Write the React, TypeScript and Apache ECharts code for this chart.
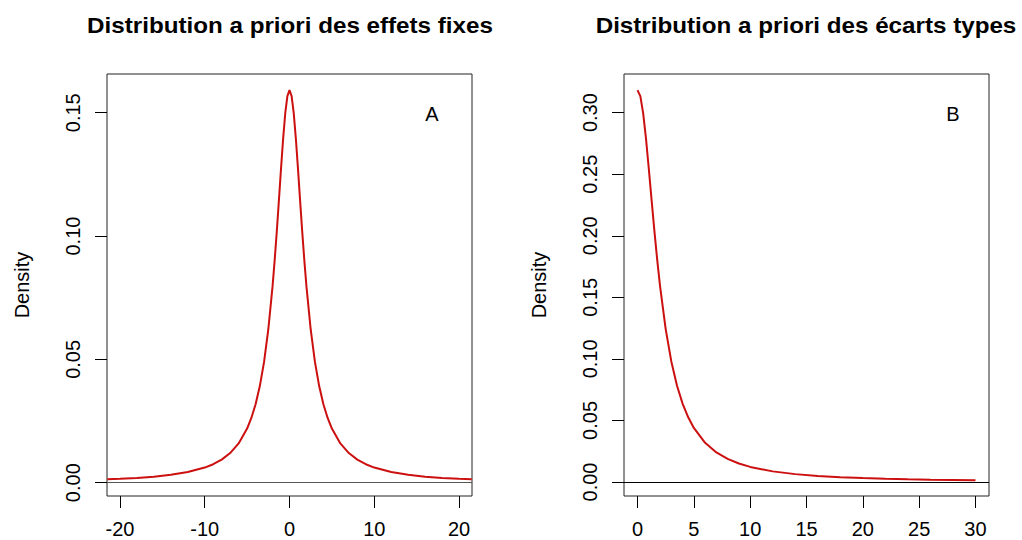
import React, { useEffect, useRef } from "react";
import * as echarts from "echarts";

const titleFixed = "Distribution a priori des effets fixes";
const titleSd = "Distribution a priori des écarts types";
const yName = "Density";
const panelTags = ["A", "B"];

// Panel A: prior density of the fixed effects
const fixedX = [
  -21.5, -20, -18, -16, -14, -12, -10, -9, -8, -7, -6, -5, -4.5, -4, -3.5, -3, -2.5, -2,
  -1.75, -1.5, -1.25, -1, -0.75, -0.5, -0.25, 0, 0.25, 0.5, 0.75, 1, 1.25, 1.5, 1.75, 2,
  2.5, 3, 3.5, 4, 4.5, 5, 6, 7, 8, 9, 10, 12, 14, 16, 18, 20, 21.5,
];
const fixedDensity = [
  0.00137, 0.00158, 0.00194, 0.00245, 0.00318, 0.0043, 0.00612, 0.00749, 0.00936, 0.01201,
  0.01592, 0.02195, 0.02625, 0.03183, 0.03918, 0.04897, 0.06211, 0.07958, 0.09014, 0.10186,
  0.11445, 0.12732, 0.13953, 0.14979, 0.15671, 0.15916, 0.15671, 0.14979, 0.13953, 0.12732,
  0.11445, 0.10186, 0.09014, 0.07958, 0.06211, 0.04897, 0.03918, 0.03183, 0.02625, 0.02195,
  0.01592, 0.01201, 0.00936, 0.00749, 0.00612, 0.0043, 0.00318, 0.00245, 0.00194, 0.00158,
  0.00137,
];

// Panel B: prior density of the standard deviations
const sdX = [
  0, 0.25, 0.5, 0.75, 1, 1.25, 1.5, 1.75, 2, 2.5, 3, 3.5, 4, 4.5, 5, 6, 7, 8, 9, 10, 12, 14,
  16, 18, 20, 22, 24, 26, 28, 30,
];
const sdDensity = [
  0.31831, 0.31341, 0.29959, 0.27907, 0.25465, 0.2289, 0.20372, 0.18028, 0.15916, 0.12422,
  0.09794, 0.07835, 0.06366, 0.05251, 0.04391, 0.03183, 0.02402, 0.01872, 0.01498, 0.01224,
  0.0086, 0.00637, 0.0049, 0.00388, 0.00315, 0.00261, 0.0022, 0.00187, 0.00162, 0.00141,
];

const fixedXTicks = [-20, -10, 0, 10, 20];
const fixedYTicks = [0, 0.05, 0.1, 0.15];
const sdXTicks = [0, 5, 10, 15, 20, 25, 30];
const sdYTicks = [0, 0.05, 0.1, 0.15, 0.2, 0.25, 0.3];

const font = "'Liberation Sans', Arial, Helvetica, sans-serif";
const curveColor = "#cc1010";

function xAxisDef(gridIndex: number, min: number, max: number, ticks: number[]) {
  return {
    gridIndex,
    type: "value",
    position: "bottom",
    min,
    max,
    axisLine: { show: false, onZero: false },
    splitLine: { show: false },
    axisTick: {
      show: true,
      inside: false,
      length: 12,
      customValues: ticks,
      lineStyle: { color: "#000", width: 1 },
    },
    axisLabel: {
      customValues: ticks,
      fontSize: 20,
      lineHeight: 20,
      fontFamily: font,
      color: "#000",
      margin: 23,
      formatter: (v: number) => String(v),
    },
  };
}

function yAxisDef(gridIndex: number, min: number, max: number, ticks: number[]) {
  return {
    gridIndex,
    type: "value",
    position: "left",
    min,
    max,
    axisLine: { show: false, onZero: false },
    splitLine: { show: false },
    axisTick: {
      show: true,
      inside: false,
      length: 12,
      customValues: ticks,
      lineStyle: { color: "#000", width: 1 },
    },
    axisLabel: {
      customValues: ticks,
      rotate: 90,
      fontSize: 20,
      fontFamily: font,
      color: "#000",
      margin: 24,
      formatter: (v: number) => v.toFixed(2),
    },
  };
}

export default function App() {
  const ref = useRef<HTMLDivElement>(null);

  useEffect(() => {
    if (!ref.current) return;
    const chart = echarts.init(ref.current, null, { renderer: "svg" });
    const gridBase = {
      show: true,
      borderColor: "#222",
      borderWidth: 1,
      backgroundColor: "transparent",
      containLabel: false,
      outerBoundsMode: "none",
    };
    chart.setOption({
      animation: false,
      backgroundColor: "#fff",
      grid: [
        { ...gridBase, left: 107, top: 74, width: 365, height: 422 },
        { ...gridBase, left: 624, top: 74, width: 365, height: 422 },
      ],
      xAxis: [
        xAxisDef(0, -21.53, 21.53, fixedXTicks),
        xAxisDef(1, -1.2, 31.2, sdXTicks),
      ],
      yAxis: [
        yAxisDef(0, -0.0054, 0.1657, fixedYTicks),
        yAxisDef(1, -0.0114, 0.3314, sdYTicks),
      ],
      series: [
        {
          type: "line",
          xAxisIndex: 0,
          yAxisIndex: 0,
          showSymbol: false,
          data: fixedX.map((x, i) => [x, fixedDensity[i]]),
          lineStyle: { color: curveColor, width: 2 },
          markLine: {
            silent: true,
            symbol: "none",
            label: { show: false },
            lineStyle: { color: "#555", width: 1, type: "solid" },
            data: [{ yAxis: 0 }],
          },
        },
        {
          type: "line",
          xAxisIndex: 1,
          yAxisIndex: 1,
          showSymbol: false,
          data: sdX.map((x, i) => [x, sdDensity[i]]),
          lineStyle: { color: curveColor, width: 2 },
          markLine: {
            silent: true,
            symbol: "none",
            label: { show: false },
            lineStyle: { color: "#000", width: 1, type: "solid" },
            data: [{ yAxis: 0 }],
          },
        },
      ],
      graphic: [
        {
          type: "text",
          x: 290,
          y: 25,
          scaleX: 1.1,
          style: {
            text: titleFixed,
            fontSize: 22,
            fontWeight: "bold",
            fontFamily: font,
            fill: "#000",
            align: "center",
            verticalAlign: "middle",
          },
        },
        {
          type: "text",
          x: 806,
          y: 25,
          scaleX: 1.1,
          style: {
            text: titleSd,
            fontSize: 22,
            fontWeight: "bold",
            fontFamily: font,
            fill: "#000",
            align: "center",
            verticalAlign: "middle",
          },
        },
        {
          type: "text",
          x: 22,
          y: 285,
          rotation: Math.PI / 2,
          style: {
            text: yName,
            fontSize: 20,
            fontFamily: font,
            fill: "#000",
            align: "center",
            verticalAlign: "middle",
          },
        },
        {
          type: "text",
          x: 539,
          y: 285,
          rotation: Math.PI / 2,
          style: {
            text: yName,
            fontSize: 20,
            fontFamily: font,
            fill: "#000",
            align: "center",
            verticalAlign: "middle",
          },
        },
        {
          type: "text",
          x: 432,
          y: 114,
          style: {
            text: panelTags[0],
            fontSize: 20,
            fontFamily: font,
            fill: "#000",
            align: "center",
            verticalAlign: "middle",
          },
        },
        {
          type: "text",
          x: 953,
          y: 114,
          style: {
            text: panelTags[1],
            fontSize: 20,
            fontFamily: font,
            fill: "#000",
            align: "center",
            verticalAlign: "middle",
          },
        },
      ],
    });
    return () => chart.dispose();
  }, []);

  return (
    <div
      ref={ref}
      style={{ position: "fixed", left: 0, top: 0, width: 1022, height: 540 }}
    />
  );
}
